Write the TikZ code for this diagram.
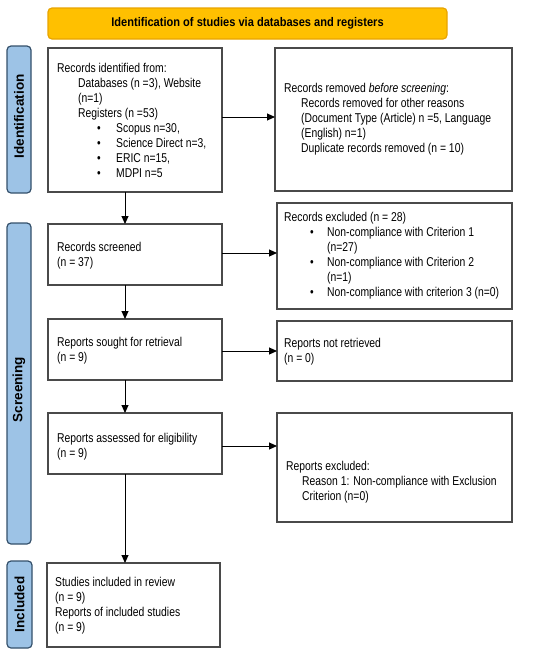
\documentclass[tikz,border=0pt]{standalone}
\usepackage{fontspec}
\setmainfont{Liberation Sans}[FakeStretch=0.81]
\newfontfamily\labfont{Liberation Sans}
\newfontfamily\titfont{Liberation Sans}[FakeStretch=0.885]
\usetikzlibrary{arrows.meta}
\definecolor{boxc}{HTML}{4A4A4A}
\definecolor{barf}{HTML}{9DC3E6}
\definecolor{barb}{HTML}{34506B}
\definecolor{yelf}{HTML}{FFC000}
\definecolor{yelb}{HTML}{E8A400}
\newcommand\fs{\fontsize{12.8}{15}\selectfont}
\newcommand\ind[1]{\hspace*{#1pt}}
\newcommand\bul[2]{\hspace*{#1pt}\makebox[#2pt][l]{\textbullet}}
\begin{document}
\begin{tikzpicture}[x=1pt,y=-1pt,
  box/.style={draw=boxc, line width=1.3pt, fill=white, inner sep=0pt, outer sep=0pt},
  txt/.style={anchor=west, align=left, inner sep=0pt, font=\fs},
  bar/.style={draw=barb, fill=barf, rounded corners=4pt, line width=1.2pt, inner sep=0pt},
  lab/.style={rotate=90, font=\labfont\fontsize{13.5}{15}\selectfont\bfseries, inner sep=0pt},
  arr/.style={-{Triangle[length=8pt,width=7pt]}, line width=1pt, draw=black}]
\useasboundingbox (0,0) rectangle (550,659);
% title
\node[draw=yelb, fill=yelf, rounded corners=4pt, line width=1.2pt, minimum width=399pt, minimum height=31pt, font=\titfont\fontsize{12.5}{15}\selectfont\bfseries] (title) at (247.5,23.5) {Identification of studies via databases and registers};
% side bars
\node[bar, minimum width=24pt, minimum height=147pt] (bid) at (19,119.5) {};
\node[lab] (lid) at ([yshift=3pt]bid.center) {Identification};
\node[bar, minimum width=24pt, minimum height=321pt] (bsc) at (19,383.5) {};
\node[lab] (lsc) at ([yshift=-6pt]bsc.center) {Screening};
\node[bar, minimum width=25pt, minimum height=87pt] (bin) at (19.5,604.5) {};
\node[lab] (lin) at (bin.center) {Included};
% boxes
\node[box, minimum width=174pt, minimum height=144pt] (b1) at (135,120) {};
\node[box, minimum width=237pt, minimum height=143pt] (r1) at (393.5,119.5) {};
\node[box, minimum width=174pt, minimum height=61pt] (b2) at (135,254.5) {};
\node[box, minimum width=235pt, minimum height=106pt] (r2) at (394.5,256) {};
\node[box, minimum width=174pt, minimum height=61pt] (b3) at (135,349.5) {};
\node[box, minimum width=235pt, minimum height=60pt] (r3) at (394.5,351) {};
\node[box, minimum width=174pt, minimum height=61pt] (b4) at (135,443.5) {};
\node[box, minimum width=235pt, minimum height=109pt] (r4) at (394.5,467.5) {};
\node[box, minimum width=173pt, minimum height=84pt] (b5) at (133.5,605) {};
% texts
\node[txt] (t1) at ([xshift=9pt]b1.west) {Records identified from:\\
\ind{21}Databases (n =3), Website\\
\ind{21}(n=1)\\
\ind{21}Registers (n =53)\\
\bul{40}{19}Scopus n=30,\\
\bul{40}{19}Science Direct n=3,\\
\bul{40}{19}ERIC n=15,\\
\bul{40}{19}MDPI n=5};
\node[txt] (tr1) at ([xshift=9pt]r1.west) {Records removed \textit{before screening}:\\
\ind{17}Records removed for other reasons\\
\ind{17}(Document Type (Article) n =5, Language\\
\ind{17}(English) n=1)\\
\ind{17}Duplicate records removed (n = 10)};
\node[txt] (t2) at ([xshift=9pt,yshift=-1pt]b2.west) {Records screened\\(n = 37)};
\node[txt] (tr2) at ([xshift=7pt]r2.west) {Records excluded (n = 28)\\
\bul{26}{17}Non-compliance with Criterion 1\\
\ind{43}(n=27)\\
\bul{26}{17}Non-compliance with Criterion 2\\
\ind{43}(n=1)\\
\bul{26}{17}Non-compliance with criterion 3 (n=0)};
\node[txt] (t3) at ([xshift=9pt,yshift=-1pt]b3.west) {Reports sought for retrieval\\(n = 9)};
\node[txt] (tr3) at ([xshift=7pt,yshift=-1pt]r3.west) {Reports not retrieved\\(n = 0)};
\node[txt] (t4) at ([xshift=9pt,yshift=-3pt]b4.west) {Reports assessed for eligibility\\(n = 9)};
\node[txt] (tr4) at ([xshift=9pt,yshift=-14.5pt]r4.west) {Reports excluded:\\
\ind{16}Reason 1: Non-compliance with Exclusion\\
\ind{16}Criterion (n=0)};
\node[txt] (t5) at ([xshift=8pt,yshift=-1pt]b5.west) {Studies included in review\\(n = 9)\\Reports of included studies\\(n = 9)};
% connectors
\draw[arr] ([xshift=-10pt]b1.south) -- ([xshift=-10pt]b2.north);
\draw[arr] ([xshift=-10pt]b2.south) -- ([xshift=-10pt]b3.north);
\draw[arr] ([xshift=-10pt]b3.south) -- ([xshift=-10pt]b4.north);
\draw[arr] ([xshift=-10pt]b4.south) -- ([xshift=-10pt]b4.south |- b5.north);
\draw[arr] ([yshift=3pt]b1.east) -- ([yshift=3pt]b1.east -| r1.west);
\draw[arr] ([yshift=1.5pt]b2.east) -- ([yshift=1.5pt]b2.east -| r2.west);
\draw[arr] ([yshift=-1.5pt]b3.east) -- ([yshift=-1.5pt]b3.east -| r3.west);
\draw[arr] ([yshift=-2.5pt]b4.east) -- ([yshift=-2.5pt]b4.east -| r4.west);
\end{tikzpicture}
\end{document}
